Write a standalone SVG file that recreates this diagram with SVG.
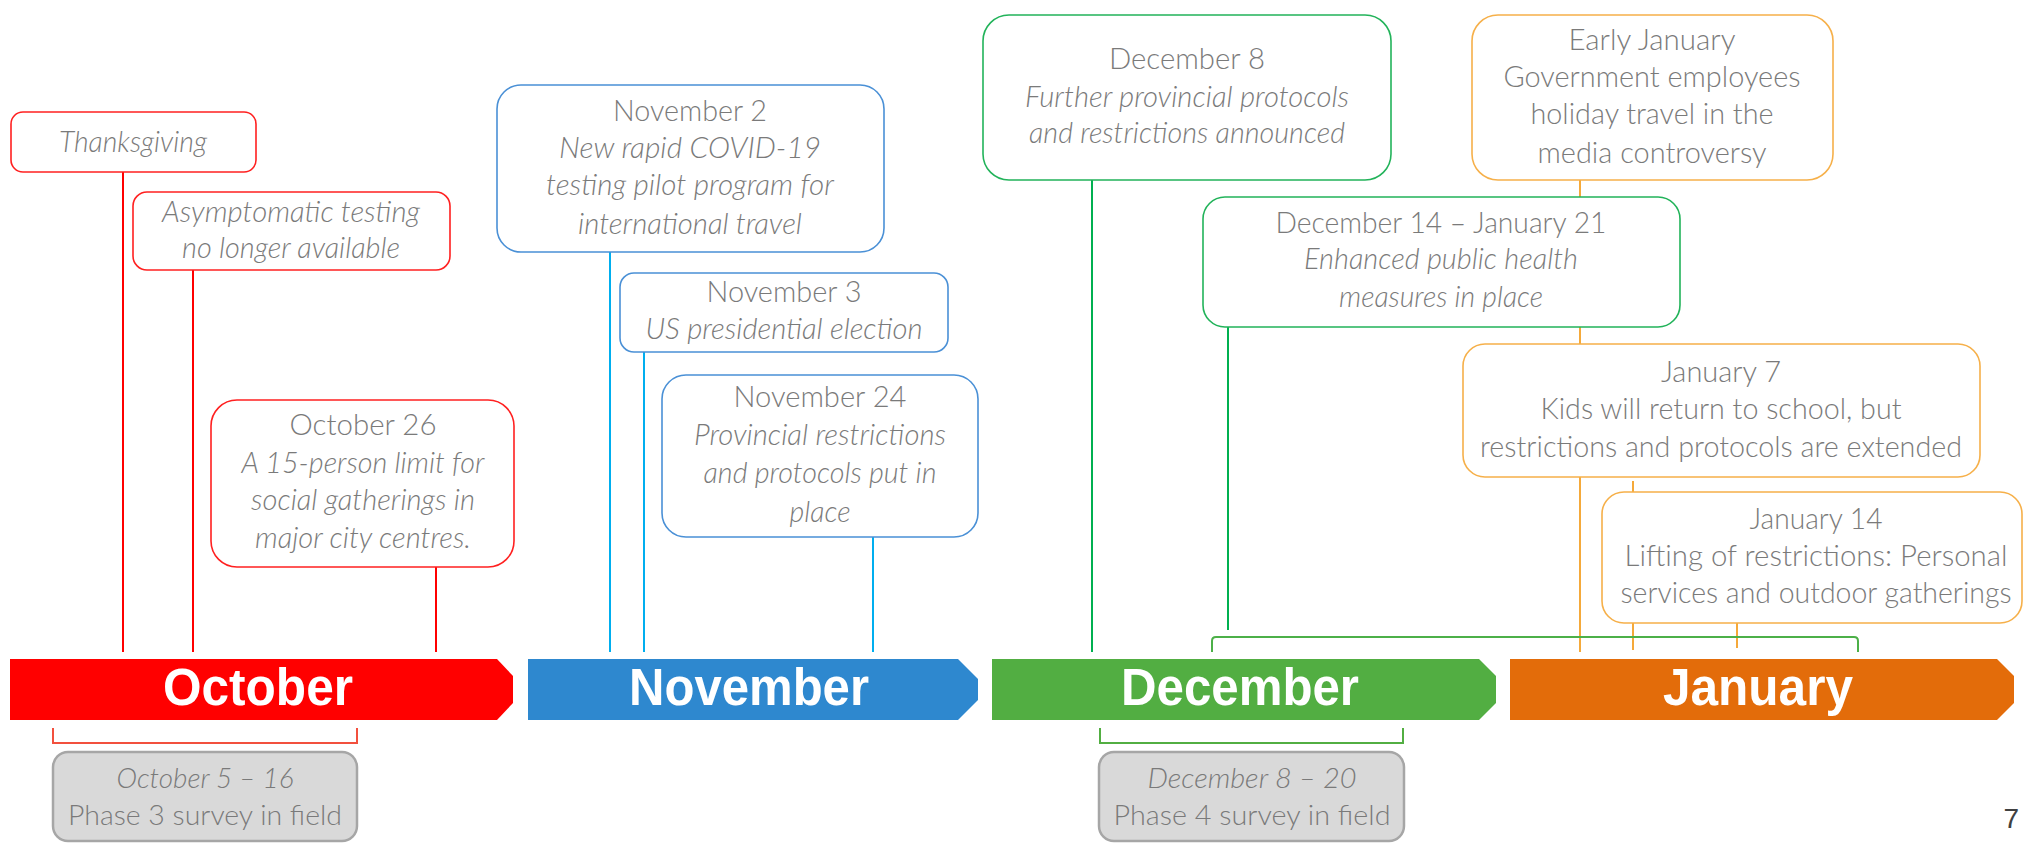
<svg xmlns="http://www.w3.org/2000/svg" width="2023" height="843" viewBox="0 0 2023 843">
<style>
.t{font-family:Lato,"Liberation Sans",sans-serif;font-weight:300;font-size:30px;fill:#7a7a7a;text-anchor:middle}
.i{font-style:italic}
.s{font-family:Lato,"Liberation Sans",sans-serif;font-weight:300;font-size:28px;fill:#7a7a7a;text-anchor:middle}
.m{font-family:"Liberation Sans",Arial,sans-serif;font-weight:bold;font-size:51px;fill:#ffffff;text-anchor:middle}
.box{fill:#ffffff;stroke-width:1.6}
.r{stroke:#ff2020}.b{stroke:#4a90d6}.g{stroke:#22b35a}.o{stroke:#f6b04a}
.ln{fill:none;stroke-width:2}
.survey{fill:#d9d9d9;stroke:#a6a6a6;stroke-width:2.5}
</style>
<rect width="2023" height="843" fill="#ffffff"/>
<g id="connectors" class="ln">
<path d="M123,172V652M193,270V652M436,567V652" stroke="#ff0000"/>
<path d="M610,252V652M644,352V652M873,537V652" stroke="#00aeef"/>
<path d="M1092,179V652M1228,326V630" stroke="#00b050"/>
<path d="M1580,179V652M1633,481V650M1737,623V648" stroke="#f5a93a"/>
<path d="M1212,652V641Q1212,637 1216,637H1854Q1858,637 1858,641V652" stroke="#4cb048"/>
<path d="M53,728V743H357V728" stroke="#f2503e"/>
<path d="M1100,728V743H1403V728" stroke="#52ae42"/>
</g>
<g id="bar-october">
<polygon points="10,659 497,659 513,676 513,703 497,720 10,720" fill="#ff0000"/>
<text class="m" x="258" y="705" textLength="190" lengthAdjust="spacingAndGlyphs">October</text>
</g>
<g id="bar-november">
<polygon points="528,659 958,659 978,679 978,700 958,720 528,720" fill="#2e88cf"/>
<text class="m" x="749" y="705" textLength="240" lengthAdjust="spacingAndGlyphs">November</text>
</g>
<g id="bar-december">
<polygon points="992,659 1479,659 1496,676 1496,703 1479,720 992,720" fill="#52ae42"/>
<text class="m" x="1240" y="705" textLength="238" lengthAdjust="spacingAndGlyphs">December</text>
</g>
<g id="bar-january">
<polygon points="1510,659 1997,659 2014,676 2014,703 1997,720 1510,720" fill="#e36c0a"/>
<text class="m" x="1758" y="705" textLength="190" lengthAdjust="spacingAndGlyphs">January</text>
</g>
<g id="thanksgiving">
<rect class="box r" x="11" y="112" width="245" height="60" rx="12"/>
<text class="t i" x="133" y="152" textLength="148" lengthAdjust="spacingAndGlyphs">Thanksgiving</text>
</g>
<g id="asymptomatic">
<rect class="box r" x="133" y="192" width="317" height="78" rx="14"/>
<text class="t i" x="291" y="222" textLength="258" lengthAdjust="spacingAndGlyphs">Asymptomatic testing</text>
<text class="t i" x="291" y="258" textLength="218" lengthAdjust="spacingAndGlyphs">no longer available</text>
</g>
<g id="oct26">
<rect class="box r" x="211" y="400" width="303" height="167" rx="26"/>
<text class="t" x="363" y="435" textLength="147" lengthAdjust="spacingAndGlyphs">October 26</text>
<text class="t i" x="363" y="473" textLength="243" lengthAdjust="spacingAndGlyphs">A 15-person limit for</text>
<text class="t i" x="363" y="510" textLength="224" lengthAdjust="spacingAndGlyphs">social gatherings in</text>
<text class="t i" x="363" y="548" textLength="216" lengthAdjust="spacingAndGlyphs">major city centres.</text>
</g>
<g id="nov2">
<rect class="box b" x="497" y="85" width="387" height="167" rx="24"/>
<text class="t" x="690" y="121" textLength="154" lengthAdjust="spacingAndGlyphs">November 2</text>
<text class="t i" x="690" y="158" textLength="262" lengthAdjust="spacingAndGlyphs">New rapid COVID-19</text>
<text class="t i" x="690" y="195" textLength="288" lengthAdjust="spacingAndGlyphs">testing pilot program for</text>
<text class="t i" x="690" y="234" textLength="224" lengthAdjust="spacingAndGlyphs">international travel</text>
</g>
<g id="nov3">
<rect class="box b" x="620" y="273" width="328" height="79" rx="14"/>
<text class="t" x="784" y="302" textLength="155" lengthAdjust="spacingAndGlyphs">November 3</text>
<text class="t i" x="784" y="339" textLength="277" lengthAdjust="spacingAndGlyphs">US presidential election</text>
</g>
<g id="nov24">
<rect class="box b" x="662" y="375" width="316" height="162" rx="24"/>
<text class="t" x="820" y="407" textLength="173" lengthAdjust="spacingAndGlyphs">November 24</text>
<text class="t i" x="820" y="445" textLength="252" lengthAdjust="spacingAndGlyphs">Provincial restrictions</text>
<text class="t i" x="820" y="483" textLength="233" lengthAdjust="spacingAndGlyphs">and protocols put in</text>
<text class="t i" x="820" y="522" textLength="61" lengthAdjust="spacingAndGlyphs">place</text>
</g>
<g id="dec8">
<rect class="box g" x="983" y="15" width="408" height="165" rx="26"/>
<text class="t" x="1187" y="69" textLength="156" lengthAdjust="spacingAndGlyphs">December 8</text>
<text class="t i" x="1187" y="107" textLength="324" lengthAdjust="spacingAndGlyphs">Further provincial protocols</text>
<text class="t i" x="1187" y="143" textLength="316" lengthAdjust="spacingAndGlyphs">and restrictions announced</text>
</g>
<g id="dec14">
<rect class="box g" x="1203" y="197" width="477" height="130" rx="22"/>
<text class="t" x="1441" y="233" textLength="331" lengthAdjust="spacingAndGlyphs">December 14 – January 21</text>
<text class="t i" x="1441" y="269" textLength="274" lengthAdjust="spacingAndGlyphs">Enhanced public health</text>
<text class="t i" x="1441" y="307" textLength="204" lengthAdjust="spacingAndGlyphs">measures in place</text>
</g>
<g id="earlyjan">
<rect class="box o" x="1472" y="15" width="361" height="165" rx="26"/>
<text class="t" x="1652" y="50" textLength="167" lengthAdjust="spacingAndGlyphs">Early January</text>
<text class="t" x="1652" y="87" textLength="297" lengthAdjust="spacingAndGlyphs">Government employees</text>
<text class="t" x="1652" y="124" textLength="243" lengthAdjust="spacingAndGlyphs">holiday travel in the</text>
<text class="t" x="1652" y="163" textLength="229" lengthAdjust="spacingAndGlyphs">media controversy</text>
</g>
<g id="jan7">
<rect class="box o" x="1463" y="344" width="517" height="133" rx="22"/>
<text class="t" x="1721" y="382" textLength="120" lengthAdjust="spacingAndGlyphs">January 7</text>
<text class="t" x="1721" y="419" textLength="361" lengthAdjust="spacingAndGlyphs">Kids will return to school, but</text>
<text class="t" x="1721" y="457" textLength="482" lengthAdjust="spacingAndGlyphs">restrictions and protocols are extended</text>
</g>
<g id="jan14">
<rect class="box o" x="1602" y="492" width="420" height="131" rx="22"/>
<text class="t" x="1816" y="529" textLength="133" lengthAdjust="spacingAndGlyphs">January 14</text>
<text class="t" x="1816" y="566" textLength="383" lengthAdjust="spacingAndGlyphs">Lifting of restrictions: Personal</text>
<text class="t" x="1816" y="603" textLength="391" lengthAdjust="spacingAndGlyphs">services and outdoor gatherings</text>
</g>
<g id="survey3">
<rect class="survey" x="53" y="752" width="304" height="89" rx="15"/>
<text class="s i" x="205" y="788" textLength="177" lengthAdjust="spacingAndGlyphs">October 5 – 16</text>
<text class="s" x="205" y="825" textLength="274" lengthAdjust="spacingAndGlyphs">Phase 3 survey in field</text>
</g>
<g id="survey4">
<rect class="survey" x="1099" y="752" width="305" height="89" rx="15"/>
<text class="s i" x="1252" y="788" textLength="209" lengthAdjust="spacingAndGlyphs">December 8 – 20</text>
<text class="s" x="1252" y="825" textLength="277" lengthAdjust="spacingAndGlyphs">Phase 4 survey in field</text>
</g>
<text x="2019" y="828" font-family="'Liberation Sans',Arial,sans-serif" font-size="28" fill="#404040" text-anchor="end">7</text>
</svg>
